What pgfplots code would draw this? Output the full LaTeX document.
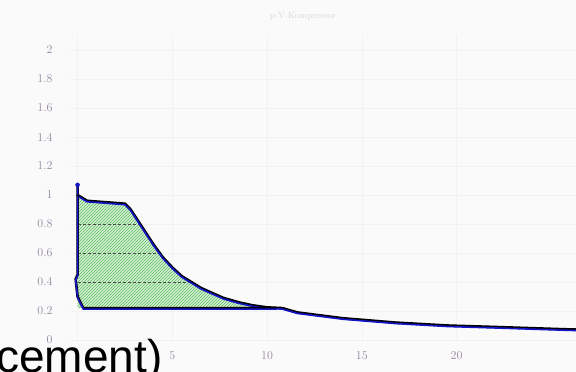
\documentclass[border=0pt]{standalone}
\usepackage{pgfplots}
\pgfplotsset{compat=1.18}
\usetikzlibrary{patterns}
\usepackage{fontspec}
\newfontfamily\sansf{Liberation Sans}
\definecolor{lineblue}{RGB}{20,20,200}
\definecolor{fillgreen}{RGB}{215,240,215}
\definecolor{hatch}{RGB}{90,190,90}
\definecolor{ticktxt}{RGB}{150,135,160}
\begin{document}
\begin{tikzpicture}
\useasboundingbox (0pt,0pt) rectangle (576pt,372pt);
\fill[gray!4] (0pt,0pt) rectangle (576pt,372pt);
\begin{axis}[
  at={(70pt,32pt)}, anchor=south west,
  scale only axis, width=506pt, height=304.5pt,
  xmin=-0.4, xmax=26.3, ymin=0, ymax=2.1,
  axis line style={draw=none}, tick style={draw=none},
  xtick={0,5,10,15,20}, ytick={0,0.2,...,2.01},
  yticklabels={0,0.2,0.4,0.6,0.8,1,1.2,1.4,1.6,1.8,2},
  xticklabels={,5,10,15,20},
  tick label style={font=\large, text=ticktxt},
  yticklabel style={xshift=-14pt},
  xticklabel style={yshift=-8pt},
  grid=major, major grid style={gray!10},
  clip=false,
  title={p-V-Kompressor}, title style={font=\small, text=gray!30, at={(0.46,1)}, yshift=6pt},
]
\addplot[draw=none, fill=fillgreen] coordinates {
 (0,0.22) (0,1.0) (0.5,0.96) (2.5,0.94) (2.8,0.90) (3.1,0.84) (3.5,0.76) (4.0,0.66) (4.5,0.57) (5.0,0.50) (5.5,0.44) (6.0,0.40) (6.5,0.36) (7.0,0.33) (7.7,0.29) (8.5,0.26) (9.2,0.24) (10,0.225) (10.5,0.22) (0,0.22)};
\addplot[draw=none, pattern=north east lines, pattern color=hatch] coordinates {
 (0,0.22) (0,1.0) (0.5,0.96) (2.5,0.94) (2.8,0.90) (3.1,0.84) (3.5,0.76) (4.0,0.66) (4.5,0.57) (5.0,0.50) (5.5,0.44) (6.0,0.40) (6.5,0.36) (7.0,0.33) (7.7,0.29) (8.5,0.26) (9.2,0.24) (10,0.225) (10.5,0.22) (0,0.22)};
\addplot[black!70, densely dashed, thin] coordinates {(0,0.8) (3.3,0.8)};
\addplot[black!70, densely dashed, thin] coordinates {(0,0.6) (4.3,0.6)};
\addplot[black!70, densely dashed, thin] coordinates {(0,0.4) (6.0,0.4)};
\addplot[black, line width=2.6pt, line join=round] coordinates {
 (0,1.07) (0,1.0) (0.5,0.96) (2.5,0.94) (2.8,0.90) (3.1,0.84) (3.5,0.76) (4.0,0.66) (4.5,0.57) (5.0,0.50) (5.5,0.44) (6.0,0.40) (6.5,0.36) (7.0,0.33) (7.7,0.29) (8.5,0.26) (9.2,0.24) (10,0.225) (10.8,0.22) (11.6,0.19) (14,0.15) (16.8,0.12) (19.5,0.10) (22,0.09) (25.5,0.075) (26.3,0.072)};
\addplot[lineblue, line width=1.6pt, line join=round, yshift=-1pt] coordinates {
 (0,1.07) (0,1.0) (0.5,0.96) (2.5,0.94) (2.8,0.90) (3.1,0.84) (3.5,0.76) (4.0,0.66) (4.5,0.57) (5.0,0.50) (5.5,0.44) (6.0,0.40) (6.5,0.36) (7.0,0.33) (7.7,0.29) (8.5,0.26) (9.2,0.24) (10,0.225) (10.8,0.22) (11.6,0.19) (14,0.15) (16.8,0.12) (19.5,0.10) (22,0.09) (25.5,0.075) (26.3,0.072)};
\addplot[black, line width=2.6pt, line join=round] coordinates {
 (0,1.0) (0,0.45) (-0.1,0.42) (0,0.3) (0.3,0.22) (10.5,0.22)};
\addplot[lineblue, line width=1.6pt, line join=round, yshift=-1pt] coordinates {
 (0,1.0) (0,0.45) (-0.1,0.42) (0,0.3) (0.3,0.22) (10.5,0.22)};
\addplot[only marks, mark=*, mark size=2pt, lineblue] coordinates {(0,1.07)};
\end{axis}
\node[anchor=base west, font=\sansf\fontsize{46}{46}\selectfont, inner sep=0pt] at (-4pt,-1pt) {cement)};
\end{tikzpicture}
\end{document}
